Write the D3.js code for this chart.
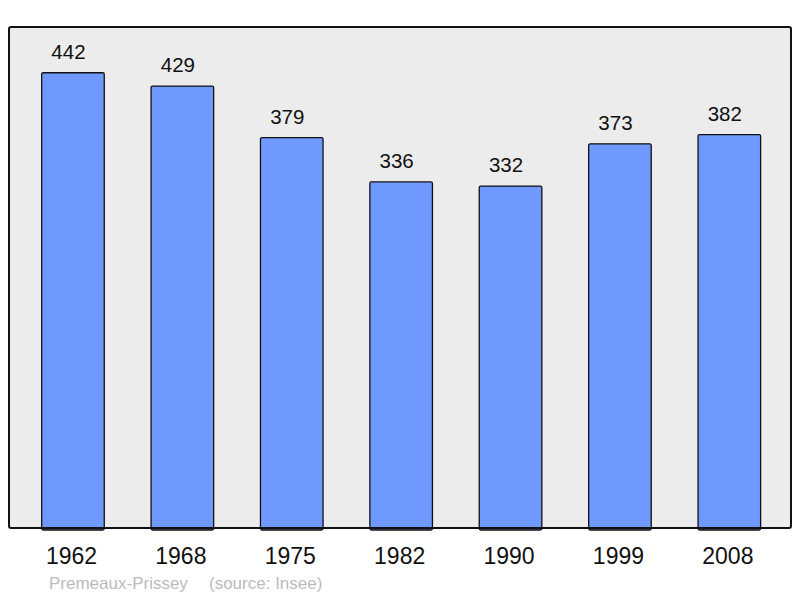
<!DOCTYPE html>
<html>
<head>
<meta charset="utf-8">
<script src="https://cdn.jsdelivr.net/npm/d3@7"></script>
<style>
  body { margin: 0; background: #fff; }
  text { font-family: "Liberation Sans", Arial, sans-serif; }
</style>
</head>
<body>
<script>
// data
var years = ["1962", "1968", "1975", "1982", "1990", "1999", "2008"];
var population = [442, 429, 379, 336, 332, 373, 382];
var commune = "Premeaux-Prissey";
var source = "(source: Insee)";

var W = 800, H = 598;
var frame = {left: 9, top: 27, right: 791, bottom: 528};

var svg = d3.select("body").append("svg")
    .attr("width", W)
    .attr("height", H);

// background frame
svg.append("rect")
    .attr("x", frame.left)
    .attr("y", frame.top)
    .attr("width", frame.right - frame.left)
    .attr("height", frame.bottom - frame.top)
    .attr("rx", 2)
    .attr("fill", "#ececec");

var x = d3.scaleBand()
    .domain(years)
    .range([19.8, 782.5])
    .paddingInner(0.428)
    .paddingOuter(0.2);

var y = d3.scaleLinear()
    .domain([0, 486.4])
    .range([frame.bottom, frame.top]);

var data = years.map(function(d, i) { return {year: d, value: population[i]}; });

// bars
svg.selectAll(".bar")
    .data(data)
    .enter().append("rect")
    .attr("class", "bar")
    .attr("x", function(d) { return x(d.year); })
    .attr("y", function(d) { return y(d.value); })
    .attr("width", x.bandwidth())
    .attr("height", function(d) { return frame.bottom - y(d.value) + 2; })
    .attr("rx", 1.5)
    .attr("fill", "#7099ff")
    .attr("stroke", "#111")
    .attr("stroke-width", 1.3);

// value labels (sit a little left of the bar centre in the original)
svg.selectAll(".val")
    .data(data)
    .enter().append("text")
    .attr("class", "val")
    .attr("x", function(d) { return x(d.year) + x.bandwidth() / 2 - 4.5; })
    .attr("y", function(d) { return y(d.value) - 14; })
    .attr("text-anchor", "middle")
    .attr("font-size", 20.5)
    .attr("fill", "#111")
    .text(function(d) { return d.value; });

// frame border on top
svg.append("rect")
    .attr("x", frame.left)
    .attr("y", frame.top)
    .attr("width", frame.right - frame.left)
    .attr("height", frame.bottom - frame.top)
    .attr("rx", 2)
    .attr("fill", "none")
    .attr("stroke", "#111")
    .attr("stroke-width", 2);

// x axis labels
var xAxis = d3.axisBottom(x).tickSize(0).tickPadding(0);
var gx = svg.append("g")
    .attr("transform", "translate(0," + frame.bottom + ")")
    .call(xAxis);
gx.select(".domain").remove();
gx.selectAll("text")
    .attr("x", -1.5)
    .attr("y", 36)
    .attr("dy", 0)
    .attr("font-size", 23)
    .attr("fill", "#111");

// caption
svg.append("text")
    .attr("x", 49)
    .attr("y", 589)
    .attr("font-size", 17)
    .attr("fill", "#bbb")
    .text(commune);
svg.append("text")
    .attr("x", 209)
    .attr("y", 589)
    .attr("font-size", 17)
    .attr("fill", "#bbb")
    .text(source);
</script>
</body>
</html>
